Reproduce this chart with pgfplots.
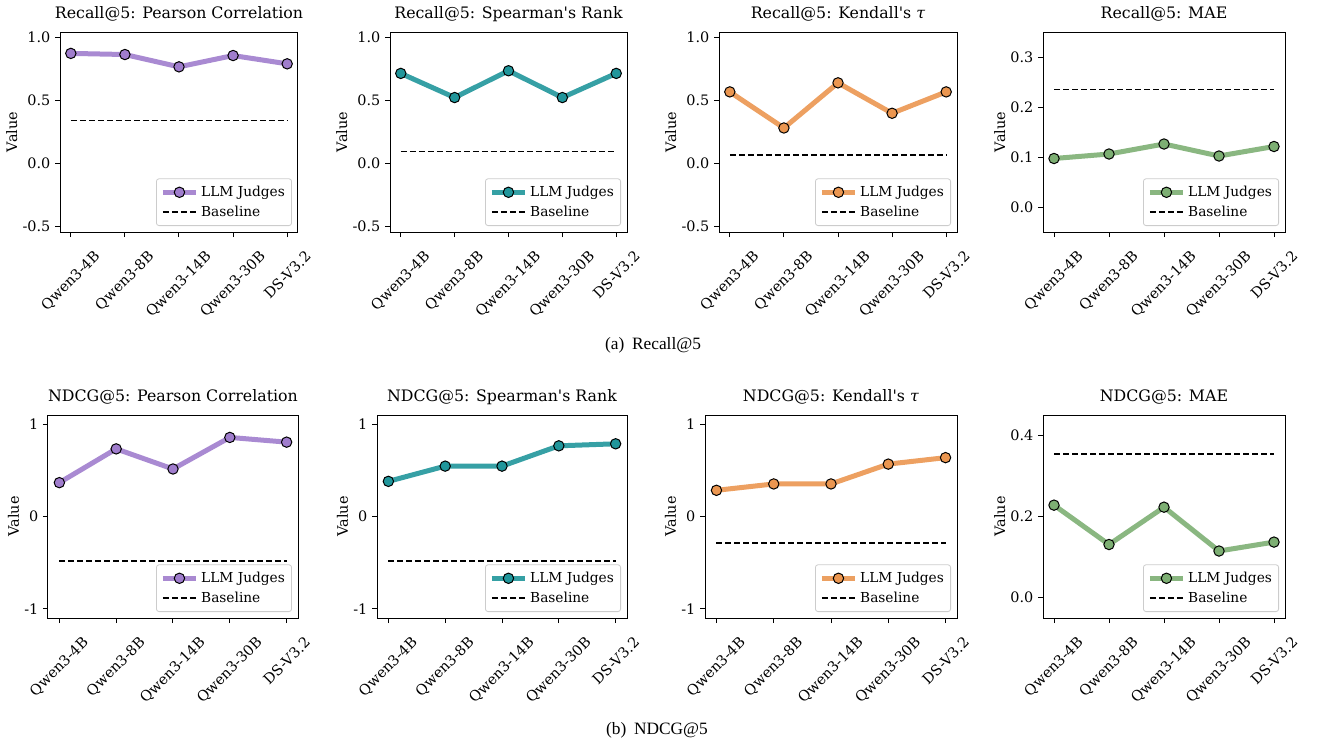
\documentclass[border=0pt]{standalone}
\usepackage{fontspec}
\usepackage{graphicx}
\usepackage{pgfplots}
\pgfplotsset{compat=1.18}
\newfontfamily\pfam{DejaVu Serif}
\newfontfamily\cfam{Liberation Serif}
\newcommand\pf{\pfam\fontsize{10.3pt}{12.4pt}\selectfont}
\newcommand\kf{\pfam\fontsize{10.8pt}{13pt}\selectfont}
\newcommand\tf{\pfam\fontsize{11.85pt}{14pt}\selectfont}
\newcommand\cf{\cfam\fontsize{13pt}{15pt}\selectfont}
\definecolor{cpur}{RGB}{160,125,205}
\definecolor{ctea}{RGB}{32,150,155}
\definecolor{cora}{RGB}{235,150,80}
\definecolor{cgre}{RGB}{125,175,115}
\pgfplotsset{
  base/.style={
    scale only axis, anchor=north west,
    xmin=-0.2, xmax=4.2, xtick={0,1,2,3,4},
    xticklabels={\rotatebox{45}{Qwen3-4B},\rotatebox{45}{Qwen3-8B},\rotatebox{45}{Qwen3-14B},\rotatebox{45}{Qwen3-30B},\rotatebox{45}{DS-V3.2}},
    xticklabel style={anchor=north, inner sep=1pt, yshift=-8.5pt},
    tick align=outside, xtick pos=left, ytick pos=left,
    major tick length=3.75pt,
    every tick/.style={black, line width=0.75pt},
    axis line style={line width=0.75pt},
    ylabel={Value}, ylabel shift=-3pt,
    tick label style={font=\kf},
    label style={font=\kf},
    title style={font=\tf, yshift=-1.5pt},
    legend cell align=left,
    legend style={font=\pf, draw=black!20, line width=0.6pt, rounded corners=2pt,
      fill=white, at={(1,0)}, anchor=south east, xshift=-4.5pt, yshift=4.5pt,
      inner xsep=3pt, inner ysep=3.5pt, row sep=1.5pt},
  },
  llm/.style={color=#1, line width=3.75pt, draw opacity=0.9, mark=*, mark size=3.9pt,
    mark options={fill=#1, draw=black, line width=0.75pt, draw opacity=1, fill opacity=1},
    legend image code/.code={\draw[##1, mark repeat=2, mark phase=2] plot coordinates {(0pt,0pt) (12.4pt,0pt) (24.8pt,0pt)};}},
  bl/.style={black, line width=1.35pt, dash pattern=on 4.5pt off 2.25pt,
    legend image code/.code={\draw[##1] (0pt,0pt) -- (24.8pt,0pt);}},
  corr1/.style={ymin=-0.545, ymax=1.045, ytick={-0.5,0,0.5,1}, yticklabels={-0.5,0.0,0.5,1.0}},
  corr2/.style={ymin=-1.1, ymax=1.1, ytick={-1,0,1}, yticklabels={-1,0,1}},
}
\begin{document}
\begin{tikzpicture}
\path[use as bounding box] (0pt,0pt) rectangle (987.75pt,-558pt);
% ---------- Row 1 ----------
\begin{axis}[base, corr1, at={(45pt,-24pt)}, width=178.5pt, height=150pt,
  title={Recall@5: Pearson Correlation}]
\addplot[llm=cpur] coordinates {(0,0.875) (1,0.866) (2,0.768) (3,0.858) (4,0.792)};
\addlegendentry{LLM Judges}
\addplot[bl] coordinates {(0,0.342) (4,0.342)};
\addlegendentry{Baseline}
\end{axis}
\begin{axis}[base, corr1, at={(292.5pt,-24pt)}, width=177.75pt, height=150pt,
  title={Recall@5: Spearman\textquotesingle s Rank}]
\addplot[llm=ctea] coordinates {(0,0.716) (1,0.524) (2,0.737) (3,0.524) (4,0.716)};
\addlegendentry{LLM Judges}
\addplot[bl] coordinates {(0,0.095) (4,0.095)};
\addlegendentry{Baseline}
\end{axis}
\begin{axis}[base, corr1, at={(539.25pt,-24pt)}, width=178.5pt, height=150pt,
  title={Recall@5: Kendall\textquotesingle s \textit{τ}}]
\addplot[llm=cora] coordinates {(0,0.569) (1,0.282) (2,0.641) (3,0.399) (4,0.569)};
\addlegendentry{LLM Judges}
\addplot[bl] coordinates {(0,0.067) (4,0.067)};
\addlegendentry{Baseline}
\end{axis}
\begin{axis}[base, at={(782.25pt,-24pt)}, width=181.5pt, height=150pt,
  ymin=-0.05, ymax=0.35, ytick={0,0.1,0.2,0.3}, yticklabels={0.0,0.1,0.2,0.3},
  title={Recall@5: MAE}]
\addplot[llm=cgre] coordinates {(0,0.097) (1,0.106) (2,0.126) (3,0.102) (4,0.121)};
\addlegendentry{LLM Judges}
\addplot[bl] coordinates {(0,0.235) (4,0.235)};
\addlegendentry{Baseline}
\end{axis}
% ---------- Row 2 ----------
\begin{axis}[base, corr2, at={(36pt,-311.25pt)}, width=187.5pt, height=152.25pt,
  title={NDCG@5: Pearson Correlation}]
\addplot[llm=cpur] coordinates {(0,0.367) (1,0.733) (2,0.515) (3,0.857) (4,0.806)};
\addlegendentry{LLM Judges}
\addplot[bl] coordinates {(0,-0.486) (4,-0.486)};
\addlegendentry{Baseline}
\end{axis}
\begin{axis}[base, corr2, at={(282.75pt,-311.25pt)}, width=187.5pt, height=152.25pt,
  title={NDCG@5: Spearman\textquotesingle s Rank}]
\addplot[llm=ctea] coordinates {(0,0.381) (1,0.546) (2,0.546) (3,0.766) (4,0.788)};
\addlegendentry{LLM Judges}
\addplot[bl] coordinates {(0,-0.479) (4,-0.479)};
\addlegendentry{Baseline}
\end{axis}
\begin{axis}[base, corr2, at={(528.75pt,-311.25pt)}, width=189pt, height=152.25pt,
  title={NDCG@5: Kendall\textquotesingle s \textit{τ}}]
\addplot[llm=cora] coordinates {(0,0.284) (1,0.353) (2,0.353) (3,0.568) (4,0.638)};
\addlegendentry{LLM Judges}
\addplot[bl] coordinates {(0,-0.288) (4,-0.288)};
\addlegendentry{Baseline}
\end{axis}
\begin{axis}[base, at={(782.25pt,-311.25pt)}, width=181.5pt, height=152.25pt,
  ymin=-0.05, ymax=0.45, ytick={0,0.2,0.4}, yticklabels={0.0,0.2,0.4},
  title={NDCG@5: MAE}]
\addplot[llm=cgre] coordinates {(0,0.228) (1,0.131) (2,0.223) (3,0.115) (4,0.137)};
\addlegendentry{LLM Judges}
\addplot[bl] coordinates {(0,0.354) (4,0.354)};
\addlegendentry{Baseline}
\end{axis}
% ---------- Captions ----------
\node[font=\cf] at (489.75pt,-258.75pt) {(a)\hspace{0.45em}Recall@5};
\node[font=\cf] at (492.75pt,-547.5pt) {(b)\hspace{0.45em}NDCG@5};
\end{tikzpicture}
\end{document}
